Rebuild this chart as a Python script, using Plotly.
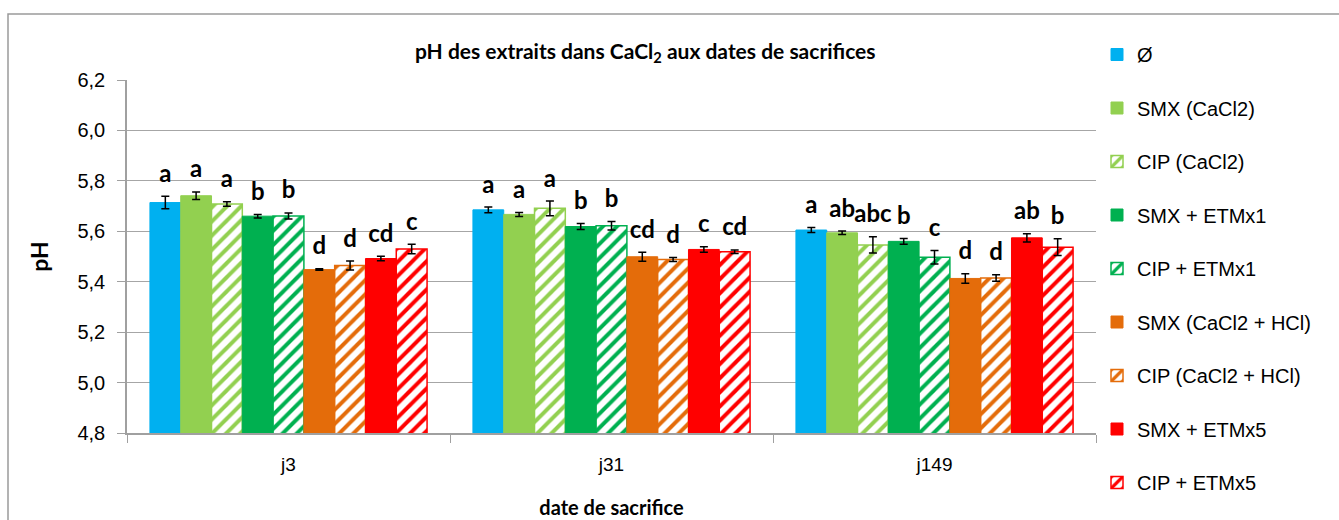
import plotly.graph_objects as go

# Sampling dates (categories)
dates = ["j3", "j31", "j149"]

# Treatments, in drawing order
treatments = [
    "Ø",
    "SMX (CaCl2)",
    "CIP (CaCl2)",
    "SMX + ETMx1",
    "CIP + ETMx1",
    "SMX (CaCl2 + HCl)",
    "CIP (CaCl2 + HCl)",
    "SMX + ETMx5",
    "CIP + ETMx5",
]

# Mean pH per treatment for j3, j31, j149
ph_control = [5.714, 5.685, 5.605]
ph_smx_cacl2 = [5.741, 5.667, 5.594]
ph_cip_cacl2 = [5.708, 5.691, 5.546]
ph_smx_etm1 = [5.660, 5.619, 5.560]
ph_cip_etm1 = [5.661, 5.622, 5.497]
ph_smx_hcl = [5.448, 5.499, 5.413]
ph_cip_hcl = [5.464, 5.488, 5.415]
ph_smx_etm5 = [5.492, 5.528, 5.574]
ph_cip_etm5 = [5.530, 5.519, 5.537]

# Standard errors
se_control = [0.025, 0.011, 0.010]
se_smx_cacl2 = [0.015, 0.008, 0.007]
se_cip_cacl2 = [0.009, 0.029, 0.032]
se_smx_etm1 = [0.007, 0.012, 0.011]
se_cip_etm1 = [0.012, 0.017, 0.027]
se_smx_hcl = [0.003, 0.018, 0.019]
se_cip_hcl = [0.018, 0.008, 0.013]
se_smx_etm5 = [0.009, 0.011, 0.016]
se_cip_etm5 = [0.019, 0.007, 0.033]

# Statistical groups (letters)
grp_control = ["a", "a", "a"]
grp_smx_cacl2 = ["a", "a", "ab"]
grp_cip_cacl2 = ["a", "a", "abc"]
grp_smx_etm1 = ["b", "b", "b"]
grp_cip_etm1 = ["b", "b", "c"]
grp_smx_hcl = ["d", "cd", "d"]
grp_cip_hcl = ["d", "d", "d"]
grp_smx_etm5 = ["cd", "c", "ab"]
grp_cip_etm5 = ["c", "cd", "b"]

means = [ph_control, ph_smx_cacl2, ph_cip_cacl2, ph_smx_etm1, ph_cip_etm1,
         ph_smx_hcl, ph_cip_hcl, ph_smx_etm5, ph_cip_etm5]
errors = [se_control, se_smx_cacl2, se_cip_cacl2, se_smx_etm1, se_cip_etm1,
          se_smx_hcl, se_cip_hcl, se_smx_etm5, se_cip_etm5]
letters = [grp_control, grp_smx_cacl2, grp_cip_cacl2, grp_smx_etm1, grp_cip_etm1,
           grp_smx_hcl, grp_cip_hcl, grp_smx_etm5, grp_cip_etm5]

colors = ["#00B0F0", "#92D050", "#92D050", "#00B050", "#00B050",
          "#E46C0A", "#E46C0A", "#FF0000", "#FF0000"]
hatched = [False, False, True, False, True, False, True, False, True]

W, H = 1339, 520
L, R, T, B = 127, 1096, 80, 433
pw = R - L
ph = B - T

fig = go.Figure()

for i, name in enumerate(treatments):
    c = colors[i]
    if hatched[i]:
        marker = dict(
            color="white",
            line=dict(color=c, width=1.5),
            pattern=dict(shape="/", fgcolor=c, bgcolor="white",
                         size=10, solidity=0.4, fillmode="replace"),
        )
    else:
        marker = dict(color=c, line=dict(color=c, width=1))
    fig.add_trace(go.Bar(
        x=dates, y=means[i], name=name, marker=marker,
        legendgroup=name, offsetgroup=str(i),
        error_y=dict(type="data", array=errors[i], visible=True,
                     color="black", thickness=1.5, width=4),
    ))

# Letters above each error bar
for i, name in enumerate(treatments):
    tops = [m + e for m, e in zip(means[i], errors[i])]
    fig.add_trace(go.Scatter(
        x=dates, y=tops, mode="markers+text", text=letters[i],
        textposition="top center", offsetgroup=str(i),
        marker=dict(size=12, color="rgba(0,0,0,0)"),
        textfont=dict(family="Lato", size=24, color="black", weight="bold"),
        showlegend=False, hoverinfo="skip", cliponaxis=False,
    ))

# Chart frame
fig.add_shape(type="rect", xref="paper", yref="paper",
              x0=(8 - L) / pw, x1=(1345 - L) / pw,
              y0=(B - 540) / ph, y1=(B - 14) / ph,
              line=dict(color="#9A9A9A", width=1.5), layer="below")

fig.add_annotation(
    text="pH des extraits dans CaCl<sub>2</sub> aux dates de sacrifices",
    xref="paper", yref="paper", x=(645 - L) / pw, y=(B - 52) / ph,
    xanchor="center", yanchor="middle", showarrow=False,
    font=dict(family="Lato", size=21, color="black", weight="bold"),
)

fig.update_layout(
    width=W, height=H,
    margin=dict(l=L, r=W - R, t=T, b=H - B, pad=0, autoexpand=False),
    paper_bgcolor="white", plot_bgcolor="white",
    barmode="group", bargap=0.142, bargroupgap=0,
    scattermode="group", scattergap=0.142,
    separators=", ",
    showlegend=True,
    legend=dict(
        x=(1097 - L) / pw, xanchor="left", y=(B - 35) / ph, yanchor="top",
        font=dict(family="Liberation Sans", size=20, color="black"),
        tracegroupgap=24.5, bgcolor="rgba(0,0,0,0)", maxheight=520,
    ),
    xaxis=dict(
        type="category", showline=True, linecolor="#A0A0A0", linewidth=1.5,
        ticks="outside", ticklen=8, tickcolor="#A0A0A0", tickson="boundaries",
        tickfont=dict(family="Liberation Sans", size=19, color="black"),
        ticklabelstandoff=13, automargin=False,
        title=dict(text="date de sacrifice", standoff=27,
                   font=dict(family="Lato", size=20, color="black", weight="bold")),
        showgrid=False,
    ),
    yaxis=dict(
        range=[4.8, 6.2], dtick=0.2, tick0=4.8, tickformat=".1f",
        showline=True, linecolor="#A0A0A0", linewidth=1.5,
        ticks="outside", ticklen=8, tickcolor="#A0A0A0",
        ticklabelstandoff=8, automargin=False,
        showgrid=True, gridcolor="#A6A6A6", gridwidth=1.3,
        tickfont=dict(family="Liberation Sans", size=20, color="black"),
        title=dict(text="pH", standoff=22,
                   font=dict(family="Lato", size=23, color="black", weight="bold")),
        zeroline=False,
    ),
)

fig.write_html("out.html")
